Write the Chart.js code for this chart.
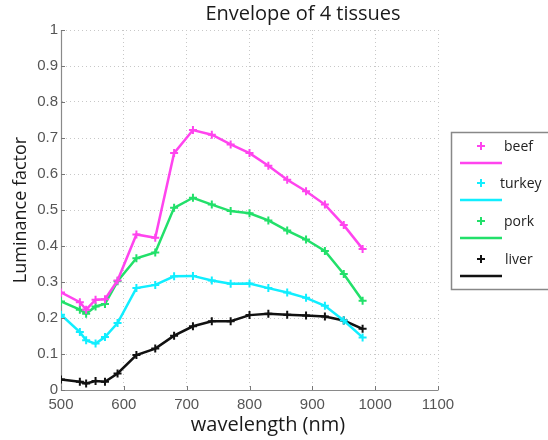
<!DOCTYPE html>
<html>
<head>
<meta charset="utf-8">
<script src="https://cdn.jsdelivr.net/npm/chart.js@4"></script>
<style>
  html, body { margin: 0; padding: 0; background: #fff; }
  #wrap { width: 548px; height: 440px; position: relative; }
</style>
</head>
<body>
<div id="wrap"><canvas id="tissueChart"></canvas></div>
<script>
// ===== data =====
const wavelengths = [500, 530, 540, 555, 570, 590, 620, 650, 680, 710, 740, 770, 800, 830, 860, 890, 920, 950, 980];
const beef   = [0.271, 0.244, 0.223, 0.251, 0.252, 0.304, 0.432, 0.423, 0.658, 0.722, 0.709, 0.682, 0.658, 0.623, 0.584, 0.552, 0.515, 0.458, 0.392];
const turkey = [0.209, 0.161, 0.138, 0.129, 0.147, 0.186, 0.283, 0.292, 0.316, 0.317, 0.304, 0.295, 0.296, 0.283, 0.271, 0.256, 0.234, 0.193, 0.146];
const pork   = [0.246, 0.223, 0.212, 0.232, 0.239, 0.302, 0.366, 0.382, 0.506, 0.534, 0.515, 0.497, 0.491, 0.471, 0.443, 0.418, 0.386, 0.322, 0.248];
const liver  = [0.029, 0.023, 0.018, 0.025, 0.023, 0.046, 0.097, 0.115, 0.151, 0.177, 0.191, 0.191, 0.208, 0.212, 0.209, 0.207, 0.204, 0.193, 0.170];

const seriesNames  = ['beef', 'turkey', 'pork', 'liver'];
const seriesColors = ['#ff44ee', '#11eeff', '#22e06a', '#111111'];
const xTicks = [500, 600, 700, 800, 900, 1000, 1100];
const yTicks = [0, 0.1, 0.2, 0.3, 0.4, 0.5, 0.6, 0.7, 0.8, 0.9, 1];

const chartTitle = 'Envelope of 4 tissues';
const xTitle = 'wavelength (nm)';
const yTitle = 'Luminance factor';

function toPoints(values) {
    return values.map((v, i) => ({ x: wavelengths[i], y: v }));
}

const allSeries = [beef, turkey, pork, liver];
const datasets = allSeries.map((vals, i) => ({
    label: seriesNames[i],
    data: toPoints(vals),
    borderColor: seriesColors[i],
    backgroundColor: seriesColors[i],
    borderWidth: 2.5,
    pointStyle: 'cross',
    pointRadius: 4,
    pointBorderWidth: 2,
    tension: 0,
    fill: false
}));

// solid axes under the data
const axesPlugin = {
    id: 'solidAxes',
    beforeDatasetsDraw(chart) {
        const ctx = chart.ctx;
        const area = chart.chartArea;
        ctx.save();
        ctx.strokeStyle = '#8a8a8a';
        ctx.lineWidth = 1.2;
        ctx.beginPath();
        ctx.moveTo(area.left + 0.5, area.top);
        ctx.lineTo(area.left + 0.5, area.bottom + 0.5);
        ctx.lineTo(area.right, area.bottom + 0.5);
        ctx.stroke();
        ctx.restore();
    }
};

// titles, inward ticks and the matlab-like legend box
const extrasPlugin = {
    id: 'extras',
    afterDraw(chart) {
        const ctx = chart.ctx;
        const area = chart.chartArea;
        const xs = chart.scales.x, ys = chart.scales.y;
        ctx.save();

        // small inward tick marks
        ctx.strokeStyle = '#777';
        ctx.lineWidth = 1;
        xTicks.forEach(t => {
            const px = Math.round(xs.getPixelForValue(t)) + 0.5;
            ctx.beginPath();
            ctx.moveTo(px, area.bottom);
            ctx.lineTo(px, area.bottom - 4);
            ctx.stroke();
        });
        yTicks.forEach(t => {
            const py = Math.round(ys.getPixelForValue(t)) + 0.5;
            ctx.beginPath();
            ctx.moveTo(area.left, py);
            ctx.lineTo(area.left + 4, py);
            ctx.stroke();
        });

        // chart title and x title
        ctx.fillStyle = '#1a1a1a';
        ctx.textAlign = 'center';
        ctx.textBaseline = 'middle';
        ctx.font = '20px "Open Sans"';
        ctx.fillText(chartTitle, 303, 14);
        ctx.font = '20px "Open Sans"';
        ctx.fillText(xTitle, 268, 425);

        // legend
        const box = { x: 451.5, y: 132.5, w: 110, h: 157 };
        ctx.strokeStyle = '#888';
        ctx.lineWidth = 1.5;
        ctx.strokeRect(box.x, box.y, box.w, box.h);
        const rowY = [146, 183, 221, 259];
        const textX = [504, 500, 504, 505];
        chart.data.datasets.forEach((ds, i) => {
            const y = rowY[i];
            ctx.strokeStyle = ds.borderColor;
            ctx.lineWidth = 2;
            ctx.beginPath();
            ctx.moveTo(481 - 4, y); ctx.lineTo(481 + 4, y);
            ctx.moveTo(481, y - 4); ctx.lineTo(481, y + 4);
            ctx.stroke();
            ctx.lineWidth = 2.5;
            ctx.beginPath();
            ctx.moveTo(460, y + 17);
            ctx.lineTo(502, y + 17);
            ctx.stroke();
            ctx.fillStyle = '#222';
            ctx.font = '14px "Open Sans"';
            ctx.textAlign = 'left';
            ctx.fillText(ds.label, textX[i], y + 1);
        });
        ctx.restore();
    }
};

const ctx = document.getElementById('tissueChart').getContext('2d');
const myChart = new Chart(ctx, {
    type: 'line',
    data: { datasets: datasets },
    options: {
        responsive: true,
        maintainAspectRatio: false,
        animation: false,
        layout: { padding: { top: 30, right: 110, left: 0, bottom: 0 } },
        plugins: {
            legend: { display: false },
            title: { display: false },
            tooltip: { enabled: false }
        },
        scales: {
            x: {
                type: 'linear',
                min: 500,
                max: 1100,
                afterBuildTicks: (scale) => { scale.ticks = xTicks.map(v => ({ value: v })); },
                afterFit: (scale) => { scale.height = 50; },
                grid: {
                    color: '#c8c8c8',
                    drawTicks: false
                },
                border: { display: true, color: '#c8c8c8', width: 1, dash: [1, 3] },
                ticks: {
                    padding: 6,
                    color: '#555',
                    font: { size: 15, family: '"Liberation Sans"' },
                    maxRotation: 0,
                    callback: (v) => String(v)
                }
            },
            y: {
                min: 0,
                max: 1,
                afterBuildTicks: (scale) => { scale.ticks = yTicks.map(v => ({ value: v })); },
                afterFit: (scale) => { scale.width = 61; },
                grid: {
                    color: '#c8c8c8',
                    drawTicks: false
                },
                border: { display: true, color: '#c8c8c8', width: 1, dash: [1, 3] },
                ticks: {
                    padding: 3,
                    color: '#555',
                    font: { size: 15, family: '"Liberation Sans"' },
                    callback: (v) => String(Math.round(v * 10) / 10)
                },
                title: {
                    display: true,
                    text: yTitle,
                    color: '#1a1a1a',
                    font: { size: 18, family: '"Open Sans"' },
                    padding: { top: 10, bottom: 0 }
                }
            }
        }
    },
    plugins: [axesPlugin, extrasPlugin]
});
</script>
</body>
</html>
